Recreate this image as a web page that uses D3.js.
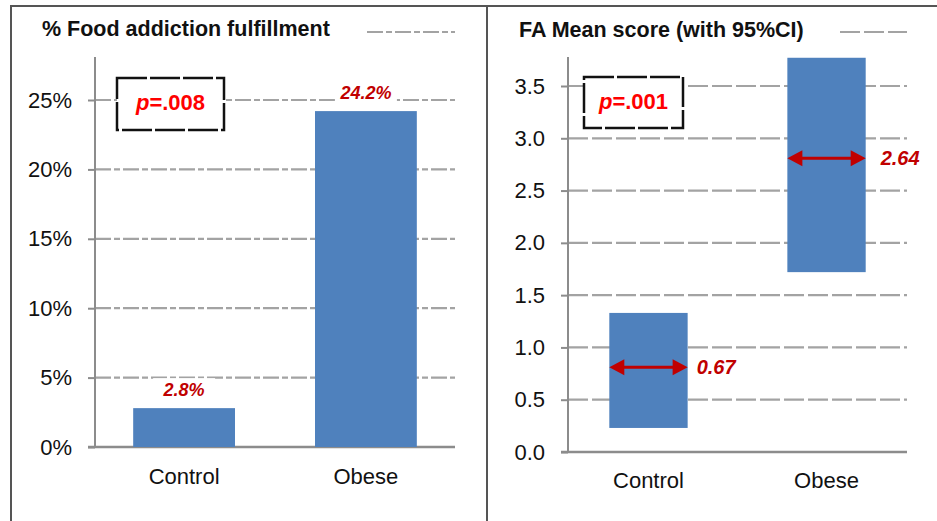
<!DOCTYPE html>
<html><head><meta charset="utf-8">
<script src="https://cdn.jsdelivr.net/npm/d3@7"></script>
<style>body{margin:0;background:#fff}svg{display:block}text{font-family:"Liberation Sans",Arial,sans-serif}</style>
</head><body>
<svg id="c" width="937" height="521"></svg>
<script>
// ---- data ----
const categories = ["Control", "Obese"];
const pctValues = [2.8, 24.2];
const pctLabels = ["2.8%", "24.2%"];
const pctTicks = [0, 5, 10, 15, 20, 25];
const ciLow = [0.23, 1.72];
const ciHigh = [1.33, 3.77];
const meanMarker = [0.81, 2.81];
const meanLabels = ["0.67", "2.64"];
const scoreTicks = [0, 0.5, 1.0, 1.5, 2.0, 2.5, 3.0, 3.5];
const titles = ["% Food addiction fulfillment", "FA Mean score (with 95%CI)"];
const pValues = [".008", ".001"];

const svg = d3.select("#c");
const BLUE = "#4f81bd", GRID = "#a3a3a3", AXIS = "#8c8c8c", DARKRED = "#c00000";

// frame
svg.append("path").attr("d", "M11,521V6H937M487,6V521").attr("fill", "none").attr("stroke", "#555").attr("stroke-width", 2);

function panel(o) {
  const g = svg.append("g");
  g.append("text").attr("x", o.titleX).attr("y", o.titleY).attr("font-size", 21.5).attr("font-weight", "bold")
    .attr("fill", "#111").text(o.title);
  g.append("line").attr("x1", o.legX1).attr("x2", o.x.range()[1]).attr("y1", 32).attr("y2", 32)
    .attr("stroke", GRID).attr("stroke-width", 2.2).attr("stroke-dasharray", o.dash);
  // gridlines
  g.append("g").selectAll("line").data(o.ticks.filter(d => d > 0)).join("line")
    .attr("x1", o.x.range()[0]).attr("x2", o.x.range()[1])
    .attr("y1", d => o.y(d)).attr("y2", d => o.y(d))
    .attr("stroke", GRID).attr("stroke-width", 2.2).attr("stroke-dasharray", o.dash);
  // y axis
  const ax = g.append("g").attr("transform", `translate(${o.x.range()[0]},0)`)
    .call(d3.axisLeft(o.y).tickValues(o.ticks).tickFormat(o.fmt).tickSize(7).tickPadding(16));
  ax.select(".domain").remove();
  ax.append("line").attr("x1", 0).attr("x2", 0).attr("y1", 57).attr("y2", o.y(0)).attr("stroke", AXIS).attr("stroke-width", 2);
  ax.selectAll(".tick line").attr("stroke", AXIS).attr("stroke-width", 2);
  ax.selectAll(".tick text").attr("font-size", 22).attr("fill", "#111").attr("font-family", '"Liberation Sans",Arial,sans-serif');
  // baseline
  g.append("line").attr("x1", o.x.range()[0] - 7).attr("x2", o.x.range()[1]).attr("y1", o.y(0)).attr("y2", o.y(0))
    .attr("stroke", AXIS).attr("stroke-width", 2.5);
  // category labels
  g.append("g").selectAll("text").data(categories).join("text")
    .attr("x", d => o.x(d) + o.x.bandwidth() / 2).attr("y", o.catY).attr("text-anchor", "middle")
    .attr("font-size", 22).attr("fill", "#111").text(d => d);
  return g;
}

function pBox(g, box, p) {
  const pb = g.append("g");
  pb.append("rect").attr("x", box[0]).attr("y", box[1]).attr("width", box[2]).attr("height", box[3])
    .attr("fill", "#fff").attr("stroke", "#111").attr("stroke-width", 2.5).attr("stroke-dasharray", "30,3");
  const pt = pb.append("text").attr("x", box[0] + box[2] / 2).attr("y", box[1] + 32).attr("text-anchor", "middle")
    .attr("font-size", 22).attr("font-weight", "bold").attr("fill", "#ff0000");
  pt.append("tspan").attr("font-style", "italic").text("p");
  pt.append("tspan").text("=" + p);
}

// left panel
const xL = d3.scaleBand().domain(categories).range([95, 455]).paddingInner(0.44).paddingOuter(0.21);
const yL = d3.scaleLinear().domain([0, 25]).range([447, 100]);
const gL = panel({ x: xL, y: yL, ticks: pctTicks, fmt: d => d + "%", title: titles[0], titleX: 42, titleY: 36,
  legX1: 367, dash: "16,3,6,3", catY: 484 });
gL.append("g").selectAll("rect").data(categories).join("rect")
  .attr("x", d => xL(d)).attr("width", xL.bandwidth())
  .attr("y", (d, i) => yL(pctValues[i])).attr("height", (d, i) => yL(0) - yL(pctValues[i])).attr("fill", BLUE);
const lblL = gL.append("g");
categories.forEach((c, i) => {
  const cx = xL(c) + xL.bandwidth() / 2, by = yL(pctValues[i]) - 12;
  lblL.append("rect").attr("x", cx - 31).attr("y", by - 18).attr("width", 62).attr("height", 22).attr("fill", "#fff");
  lblL.append("text").attr("x", cx).attr("y", by).attr("text-anchor", "middle").attr("font-size", 18)
    .attr("font-weight", "bold").attr("font-style", "italic").attr("fill", DARKRED).text(pctLabels[i]);
});
pBox(gL, [117, 78, 107, 52], pValues[0]);

// right panel
const xR = d3.scaleBand().domain(categories).range([568, 907]).paddingInner(0.56).paddingOuter(0.232);
const yR = d3.scaleLinear().domain([0, 3.5]).range([452, 86]);
const gR = panel({ x: xR, y: yR, ticks: scoreTicks, fmt: d3.format(".1f"), title: titles[1], titleX: 519, titleY: 37,
  legX1: 840, dash: "20,4", catY: 488 });
gR.append("g").selectAll("rect").data(categories).join("rect")
  .attr("x", d => xR(d)).attr("width", xR.bandwidth())
  .attr("y", (d, i) => yR(ciHigh[i])).attr("height", (d, i) => yR(ciLow[i]) - yR(ciHigh[i])).attr("fill", BLUE);
const arr = gR.append("g");
categories.forEach((c, i) => {
  const x0 = xR(c), x1 = xR(c) + xR.bandwidth(), yy = yR(meanMarker[i]);
  arr.append("line").attr("x1", x0 + 10).attr("x2", x1 - 10).attr("y1", yy).attr("y2", yy)
    .attr("stroke", DARKRED).attr("stroke-width", 3);
  arr.append("path").attr("d", `M${x0},${yy}L${x0 + 15},${yy - 8}L${x0 + 15},${yy + 8}Z`).attr("fill", DARKRED);
  arr.append("path").attr("d", `M${x1},${yy}L${x1 - 15},${yy - 8}L${x1 - 15},${yy + 8}Z`).attr("fill", DARKRED);
  arr.append("text").attr("x", x1 + (i === 0 ? 9 : 15)).attr("y", yy + 7).attr("font-size", 20)
    .attr("font-weight", "bold").attr("font-style", "italic").attr("fill", DARKRED).text(meanLabels[i]);
});
pBox(gR, [584, 77, 99, 51], pValues[1]);
</script>
</body></html>
